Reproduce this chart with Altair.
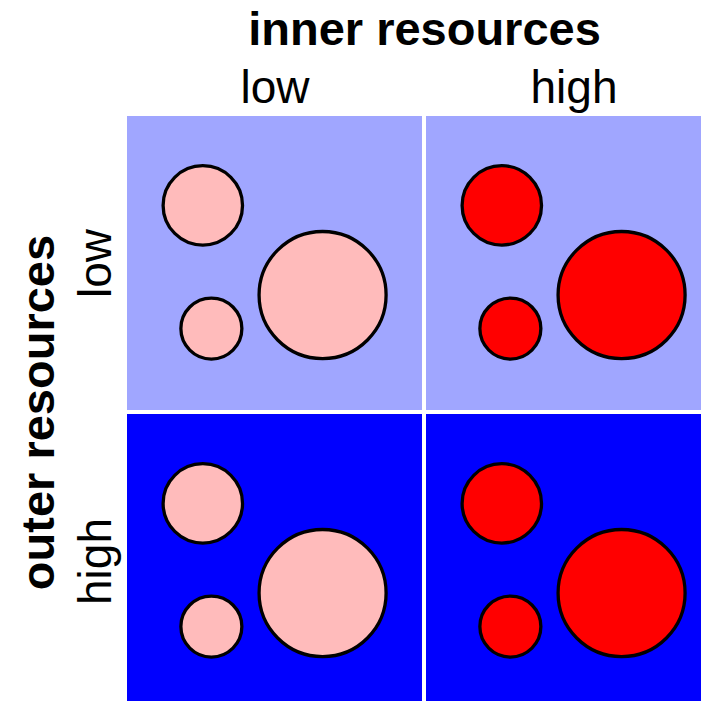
import altair as alt
import pandas as pd

# ---- data ----
outer_levels = ["low", "high"]          # rows (outer resources)
inner_levels = ["low", "high"]          # columns (inner resources)
circle_x = [0.257, 0.286, 0.663]        # circle centre, fraction of panel width from left
circle_y = [0.304, 0.723, 0.609]        # circle centre, fraction of panel height from top
circle_r = [0.1346, 0.1034, 0.2153]     # circle radius, fraction of panel width

bg_colors = ["#a0a6ff", "#0000ff"]      # by outer level
fill_colors = ["#ffbbbb", "#ff0000"]    # by inner level

# ---- layout constants ----
PW, PH, GAP = 295, 294, 4               # panel width/height and gap in px
W, H = 574, 585                          # visible plot area (right/bottom panels cropped)
gx, gy = GAP / PW, GAP / PH

bg_rows, circ_rows = [], []
for i, o in enumerate(outer_levels):
    for j, inn in enumerate(inner_levels):
        x0 = j * (1 + gx)
        y0 = i * (1 + gy)
        bg_rows.append(dict(outer=o, inner=inn, x0=x0, x1=x0 + 1, y0=y0, y1=y0 + 1))
        for cx, cy, r in zip(circle_x, circle_y, circle_r):
            circ_rows.append(dict(outer=o, inner=inn, x=x0 + cx, y=y0 + cy, r=r))

bg = pd.DataFrame(bg_rows)
circ = pd.DataFrame(circ_rows)

xscale = alt.Scale(domain=[0, W / PW], nice=False, zero=False)
yscale = alt.Scale(domain=[0, H / PH], nice=False, zero=False, reverse=True)

col_centers = [0.5, 1.5 + gx]
row_centers = [0.5, 1.5 + gy]

FONT = "Liberation Sans"

x_axis = alt.Axis(
    orient="top", values=col_centers,
    labelExpr="datum.value < 1 ? 'low' : 'high'",
    domain=False, ticks=False, tickSize=0, grid=False,
    labelFont=FONT, labelFontSize=46, labelColor="black",
    labelAlign="center", labelBaseline="alphabetic", labelPadding=14,
    labelFlush=False, labelOverlap=False, labelBound=False,
    title="inner resources", titleFont=FONT, titleFontSize=47,
    titleFontWeight="bold", titleColor="black",
    titleX=(2 * PW + GAP) / 2, titleY=-72, titleAlign="center",
    titleBaseline="alphabetic", titleAngle=0,
)
y_axis = alt.Axis(
    orient="left", values=row_centers,
    labelExpr="datum.value < 1 ? 'low' : 'high'",
    domain=False, ticks=False, tickSize=0, grid=False,
    labelFont=FONT, labelFontSize=46, labelColor="black",
    labelAngle=270, labelAlign="center", labelBaseline="alphabetic",
    labelPadding=17, labelFlush=False, labelOverlap=False, labelBound=False,
    title="outer resources", titleFont=FONT, titleFontSize=47,
    titleFontWeight="bold", titleColor="black",
    titleX=-74, titleY=(2 * PH + GAP) / 2, titleAlign="center",
    titleBaseline="alphabetic", titleAngle=270,
)

rects = alt.Chart(bg).mark_rect(clip=True, strokeWidth=0).encode(
    x=alt.X("x0:Q", scale=xscale, axis=x_axis),
    x2="x1:Q",
    y=alt.Y("y0:Q", scale=yscale, axis=y_axis),
    y2="y1:Q",
    color=alt.Color("outer:N", scale=alt.Scale(domain=outer_levels, range=bg_colors), legend=None),
)

circles = alt.Chart(circ).mark_circle(
    stroke="black", strokeWidth=3.3, opacity=1, fillOpacity=1, clip=True
).encode(
    x=alt.X("x:Q", scale=xscale, axis=x_axis),
    y=alt.Y("y:Q", scale=yscale, axis=y_axis),
    size=alt.Size("r:Q", scale=alt.Scale(type="pow", exponent=2, domain=[0, 1],
                                          range=[0, (2 * PW) ** 2]), legend=None),
    fill=alt.Fill("inner:N", scale=alt.Scale(domain=inner_levels, range=fill_colors), legend=None),
)

chart = alt.layer(rects, circles).properties(
    width=W, height=H,
    padding={"left": 119, "top": 108, "right": 0, "bottom": 0},
    autosize=alt.AutoSizeParams(type="none"),
    background="white",
).resolve_scale(color="independent", fill="independent").configure_view(stroke=None)

chart.save("out.html", embed_options={"renderer": "svg", "actions": False})
